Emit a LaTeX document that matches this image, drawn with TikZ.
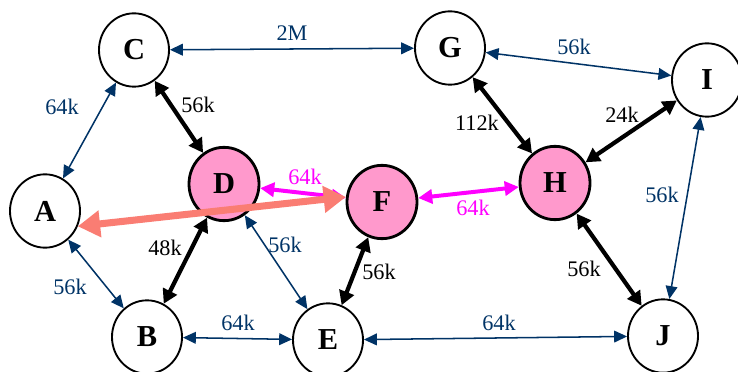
\documentclass[tikz,border=0pt]{standalone}
\usepackage{fontspec}
\setmainfont{Liberation Serif}
\usetikzlibrary{arrows.meta,shapes.geometric}

\definecolor{linknavy}{RGB}{0,51,102}
\definecolor{hubpink}{RGB}{255,153,204}
\definecolor{linkmag}{RGB}{255,0,255}
\definecolor{linkred}{RGB}{250,125,115}

\begin{document}
\begin{tikzpicture}[x=0.03cm, y=-0.03cm,
  site/.style={ellipse, draw, line width=1.6pt, fill=white, minimum width=2.1cm,
    minimum height=2.2cm, inner sep=0pt, font=\fontsize{26}{29}\selectfont\bfseries},
  hub/.style={site, fill=hubpink, line width=2.4pt},
  thin/.style={linknavy, line width=1.3pt, {Triangle[length=11pt,width=10pt]}-{Triangle[length=11pt,width=10pt]}},
  thick/.style={black, line width=3.6pt, {Triangle[length=12pt,width=13pt]}-{Triangle[length=12pt,width=13pt]}},
  magenta/.style={linkmag, line width=3.4pt, {Triangle[length=12pt,width=12pt]}-{Triangle[length=12pt,width=12pt]}},
  lbl/.style={font=\fontsize{19}{22}\selectfont, inner sep=1pt}]
  \useasboundingbox (0,0) rectangle (738,372);

  %Define nodes
  \node[site] (C) at (134,50)  {C};
  \node[site] (G) at (450,48)  {G};
  \node[site] (I) at (707,80)  {I};
  \node[site] (A) at (45,211)  {A};
  \node[hub]  (D) at (224,184) {D};
  \node[hub]  (F) at (382,202) {F};
  \node[hub]  (H) at (555,183) {H};
  \node[site] (B) at (147,337) {B};
  \node[site] (E) at (328,340) {E};
  \node[site] (J) at (663,336) {J};

  % Connect the nodes
  \draw[thin] (C) -- (G);
  \draw[thin] (G) -- (I);
  \draw[thin] (A) -- (C);
  \draw[thin] (A) -- (B);
  \draw[thin] (B) -- (E);
  \draw[thin] (E) -- (J);
  \draw[thin] (I) -- (J);
  \draw[thin] (D) -- (E);

  \draw[thick] (C) -- (D);
  \draw[thick] (D) -- (B);
  \draw[thick] (G) -- (H);
  \draw[thick] (H) -- (I);
  \draw[thick] (F) -- (E);
  \draw[thick] (H) -- (J);

  \draw[magenta] (D) -- (F);
  \draw[magenta] (F) -- (H);

  % wide link from A to F
  \draw[linkred, line width=6pt, {Triangle[length=19pt,width=22pt]}-{Triangle[length=19pt,width=22pt]}]
    (A.-25) -- (F.172);

  % link labels
  \node[lbl, text=linknavy] (l_cg) at (292,33)  {2M};
  \node[lbl, text=linknavy] (l_gi) at (574,47)  {56k};
  \node[lbl, text=linknavy] (l_ac) at (62,107)  {64k};
  \node[lbl]                (l_cd) at (198,105) {56k};
  \node[lbl, text=linkmag]  (l_df) at (305,177) {64k};
  \node[lbl, text=linkmag]  (l_fh) at (473,208) {64k};
  \node[lbl]                (l_gh) at (477,123) {112k};
  \node[lbl]                (l_hi) at (622,115) {24k};
  \node[lbl, text=linknavy] (l_ij) at (662,195) {56k};
  \node[lbl]                (l_db) at (165,248) {48k};
  \node[lbl, text=linknavy] (l_de) at (285,245) {56k};
  \node[lbl]                (l_fe) at (379,272) {56k};
  \node[lbl]                (l_hj) at (584,269) {56k};
  \node[lbl, text=linknavy] (l_ab) at (70,287)  {56k};
  \node[lbl, text=linknavy] (l_be) at (238,323) {64k};
  \node[lbl, text=linknavy] (l_ej) at (499,323) {64k};

\end{tikzpicture}
\end{document}
